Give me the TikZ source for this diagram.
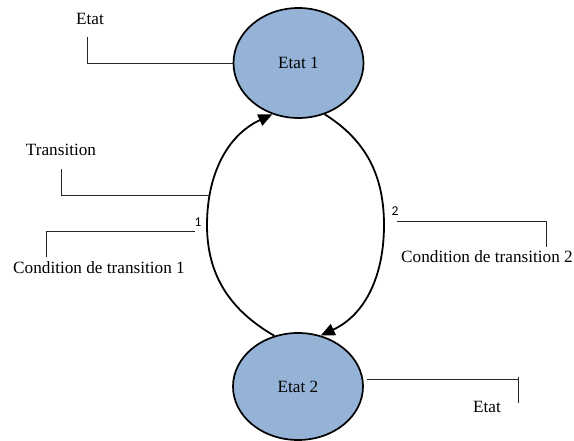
\documentclass[tikz,border=0pt]{standalone}
\usepackage{fontspec}
\setmainfont{Liberation Serif}
\newfontfamily\numfont{Carlito}
\usetikzlibrary{arrows.meta,shapes.geometric}
\definecolor{stateblue}{HTML}{95B3D7}
\tikzset{
  statenode/.style={ellipse, draw=black, line width=1.7pt, fill=stateblue, inner sep=0pt, font=\fontsize{17.2}{19}\selectfont},
  lbl/.style={inner sep=0pt, font=\fontsize{17.2}{19}\selectfont},
  numlbl/.style={inner sep=0pt, font=\numfont\fontsize{13.5}{14}\selectfont},
  callout/.style={draw=black!85, line width=0.9pt},
  arc/.style={draw=black, line width=1.8pt},
  arctip/.style={arc, -{Triangle[length=14pt,width=12pt]}}
}
\begin{document}
\begin{tikzpicture}[x=1pt,y=1pt]
\useasboundingbox (0,0) rectangle (574,441);
\node[statenode, minimum width=130pt, minimum height=110pt] (e1) at (298.5,378) {Etat 1};
\node[statenode, minimum width=130pt, minimum height=107pt] (e2) at (298,54.5) {Etat 2};
% transitions
\coordinate (lmid) at (207,216);
\coordinate (rmid) at (384,216);
\draw[arctip] (e2.115) to[out=150,in=270] (lmid) to[out=90,in=205] (e1.243);
\draw[arctip] (e1.297) to[out=-32,in=90] (rmid) to[out=270,in=25] (e2.66);
% labels
\node[lbl] (etatA) at (90,422) {Etat};
\node[lbl] (trans) at (61,291) {Transition};
\node[lbl] (cond1) at (99,173) {Condition de transition 1};
\node[lbl] (cond2) at (487,184) {Condition de transition 2};
\node[lbl] (etatB) at (487,34) {Etat};
\node[numlbl] (n1) at (198,219) {1};
\node[numlbl] (n2) at (395,230) {2};
% callout lines
\coordinate (ea) at (87,404);
\draw[callout] (ea) |- (e1.west);
\coordinate (ta) at (61,272);
\coordinate (tb) at (209,246);
\draw[callout] (ta) |- (tb);
\coordinate (ca) at (46,184);
\coordinate (cb) at (195,210);
\draw[callout] (ca) |- (cb);
\coordinate (da) at (397,220);
\coordinate (db) at (546,194);
\draw[callout] (da) -| (db);
\coordinate (fa) at (367,62);
\coordinate (fb) at (518,38);
\coordinate (fc) at (518,64);
\draw[callout] (fa) -| (fb);
\draw[callout] (fc) -- (518,62);
\end{tikzpicture}
\end{document}
